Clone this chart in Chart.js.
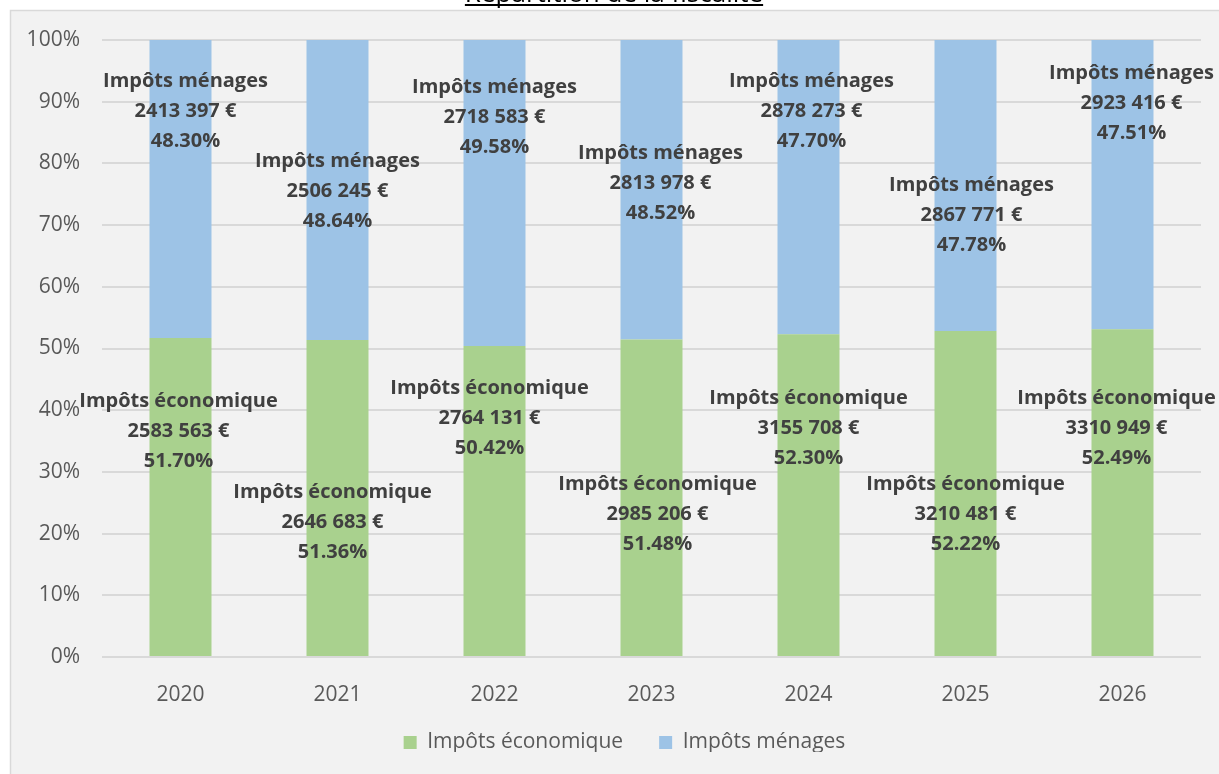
<!DOCTYPE html>
<html>
<head>
<meta charset="utf-8">
<script src="https://cdn.jsdelivr.net/npm/chart.js@4"></script>
<style>
  html, body { margin: 0; padding: 0; background: #ffffff; }
  #wrap { width: 1219px; height: 774px; position: relative; }
</style>
</head>
<body>
<div id="wrap"><canvas id="chart"></canvas></div>
<script>
const years = ['2020', '2021', '2022', '2023', '2024', '2025', '2026'];
const impotsEconomique = [2583563, 2646683, 2764131, 2985206, 3155708, 3210481, 3310949];
const impotsMenages = [2413397, 2506245, 2718583, 2813978, 2878273, 2867771, 2923416];
// shares as printed in the original labels
const partEconomique = ['51.70%', '51.36%', '50.42%', '51.48%', '52.30%', '52.22%', '52.49%'];
const partMenages = ['48.30%', '48.64%', '49.58%', '48.52%', '47.70%', '47.78%', '47.51%'];

// where the data labels sit (moved by hand in the original):
// height in % of the axis, and a small sideways nudge in px
const labelPosEco = [36.6, 21.9, 38.7, 23.2, 37.1, 23.2, 37.1];
const labelPosMen = [88.5, 75.5, 87.5, 76.8, 88.5, 71.6, 89.8];
const labelDxEco = [-2, -5, -5, 6, 0, 0, -6];
const labelDxMen = [5, 0, 0, 9, 3, 6, 9];

const totals = years.map((y, i) => impotsEconomique[i] + impotsMenages[i]);
const pctEco = impotsEconomique.map((v, i) => v / totals[i] * 100);
const pctMen = impotsMenages.map((v, i) => v / totals[i] * 100);

function euro(v) {
  const k = Math.floor(v / 1000);
  const r = String(v % 1000).padStart(3, '0');
  return k + ' ' + r + ' €';
}

const frame = {
  id: 'frame',
  afterLayout(chart) {
    // the legend sits a bit right of centre in the original
    const lg = chart.legend;
    lg.left += 24;
    lg.right += 24;
    lg.top -= 6;
    lg.bottom -= 6;
  },
  beforeDraw(chart) {
    const ctx = chart.ctx;
    ctx.save();
    ctx.fillStyle = '#ffffff';
    ctx.fillRect(0, 0, chart.width, chart.height);
    ctx.fillStyle = '#f2f2f2';
    ctx.fillRect(10, 10, chart.width, chart.height);
    ctx.strokeStyle = '#d9d9d9';
    ctx.lineWidth = 1.5;
    ctx.beginPath();
    ctx.moveTo(10.5, chart.height);
    ctx.lineTo(10.5, 10.5);
    ctx.lineTo(chart.width, 10.5);
    ctx.stroke();
    // title, mostly cut off at the top of the picture
    ctx.font = '26px "Open Sans"';
    ctx.fillStyle = '#000000';
    ctx.textAlign = 'center';
    ctx.textBaseline = 'alphabetic';
    const t = 'Répartition de la fiscalité';
    ctx.fillText(t, 614, 2);
    const w = ctx.measureText(t).width;
    ctx.fillRect(614 - w / 2, 4, w, 2);
    ctx.restore();
  }
};

const labels = {
  id: 'labels',
  afterDatasetsDraw(chart) {
    const ctx = chart.ctx;
    const ys = chart.scales.y;
    ctx.save();
    ctx.font = 'bold 20px "Open Sans"';
    ctx.fillStyle = '#404040';
    ctx.textAlign = 'center';
    ctx.textBaseline = 'middle';
    chart.data.datasets.forEach((ds, i) => {
      const meta = chart.getDatasetMeta(i);
      meta.data.forEach((bar, j) => {
        const yc = ys.getPixelForValue(ds.labelPos[j]);
        const x = bar.x + ds.labelDx[j];
        ctx.fillText(ds.label, x, yc - 30);
        ctx.fillText(euro(ds.raw[j]), x, yc);
        ctx.fillText(ds.part[j], x, yc + 30);
      });
    });
    ctx.restore();
  }
};

new Chart(document.getElementById('chart'), {
  type: 'bar',
  data: {
    labels: years,
    datasets: [
      {
        label: 'Impôts économique',
        data: pctEco,
        raw: impotsEconomique,
        part: partEconomique,
        labelPos: labelPosEco,
        labelDx: labelDxEco,
        backgroundColor: '#a9d18e',
        barPercentage: 0.395,
        categoryPercentage: 1
      },
      {
        label: 'Impôts ménages',
        data: pctMen,
        raw: impotsMenages,
        part: partMenages,
        labelPos: labelPosMen,
        labelDx: labelDxMen,
        backgroundColor: '#9dc3e6',
        barPercentage: 0.395,
        categoryPercentage: 1
      }
    ]
  },
  options: {
    responsive: true,
    maintainAspectRatio: false,
    animation: false,
    layout: { padding: { top: 40, right: 18, bottom: 16, left: 0 } },
    plugins: {
      title: { display: false },
      tooltip: { enabled: false },
      legend: {
        position: 'bottom',
        maxHeight: 56,
        labels: {
          boxWidth: 13,
          boxHeight: 13,
          padding: 36,
          color: '#595959',
          font: { family: '"Open Sans"', size: 21, lineHeight: 1 }
        }
      }
    },
    scales: {
      x: {
        stacked: true,
        afterFit(s) { s.height = 45; },
        grid: { display: false },
        border: { display: false },
        ticks: {
          color: '#595959',
          padding: 20,
          font: { family: '"Open Sans"', size: 21, lineHeight: 1 }
        }
      },
      y: {
        stacked: true,
        min: 0,
        max: 100,
        afterFit(s) { s.width = 102; },
        grid: { color: '#d9d9d9', lineWidth: 2, drawTicks: false },
        border: { display: false },
        ticks: {
          stepSize: 10,
          padding: 22,
          color: '#595959',
          font: { family: '"Open Sans"', size: 21 },
          callback: (v) => v + '%'
        }
      }
    }
  },
  plugins: [frame, labels]
});
</script>
</body>
</html>
